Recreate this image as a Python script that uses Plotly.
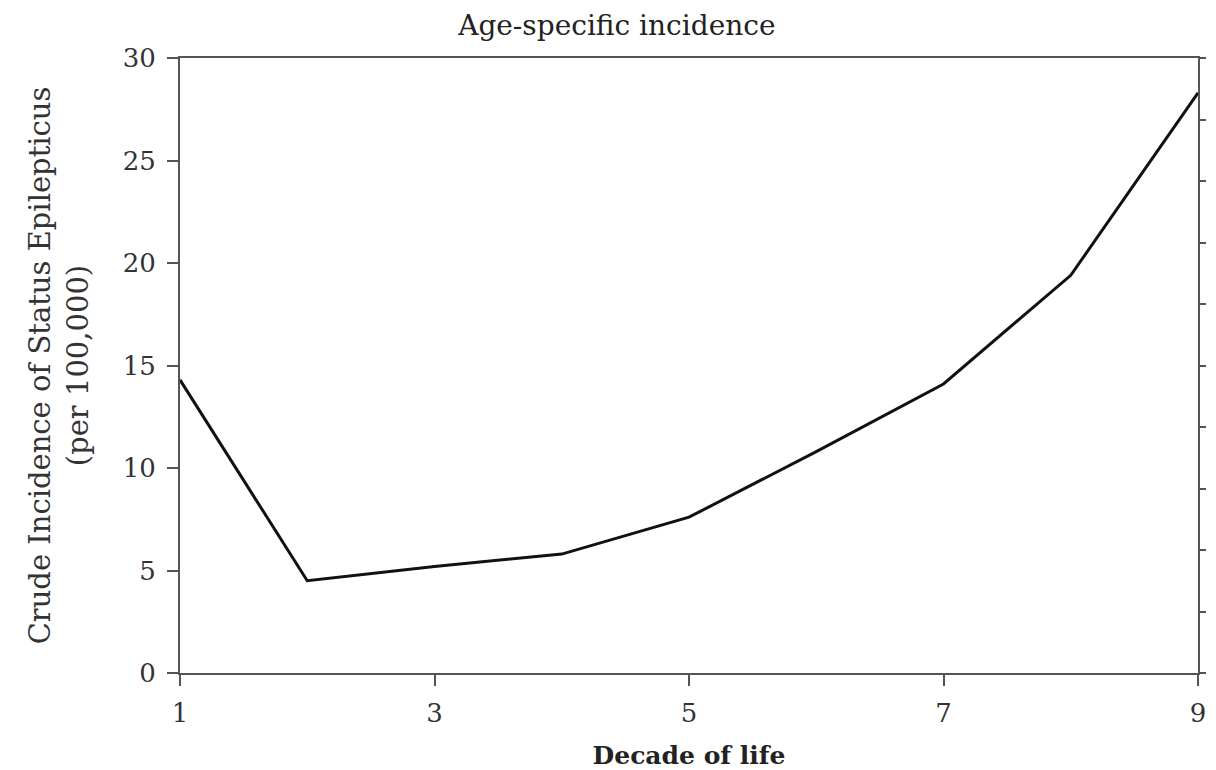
import plotly.graph_objects as go

decades = [1, 2, 3, 4, 5, 6, 7, 8, 9]
incidence = [14.3, 4.5, 5.2, 5.8, 7.6, 10.8, 14.1, 19.4, 28.3]
x_ticks = [1, 3, 5, 7, 9]
y_ticks = [0, 5, 10, 15, 20, 25, 30]

FONT = "DejaVu Serif"
AXIS_COLOR = "#555555"

fig = go.Figure()
fig.add_trace(go.Scatter(x=decades, y=incidence, mode="lines",
                         line=dict(color="#111111", width=3),
                         showlegend=False, hoverinfo="skip"))
fig.add_trace(go.Scatter(x=decades, y=incidence, mode="lines", yaxis="y2",
                         line=dict(color="rgba(0,0,0,0)", width=0),
                         showlegend=False, hoverinfo="skip"))

fig.update_layout(
    width=1208, height=762,
    margin=dict(l=172, r=18, t=50, b=97),
    paper_bgcolor="white", plot_bgcolor="white",
    title=dict(text="Age-specific incidence", x=0.504, xanchor="center",
               y=0.9777, yanchor="middle",
               font=dict(family=FONT, size=28, color="#222222")),
    xaxis=dict(range=[1, 9], tickvals=x_ticks, ticks="outside", ticklen=11,
               tickwidth=2, tickcolor=AXIS_COLOR, ticklabelstandoff=5,
               showline=True, linecolor=AXIS_COLOR, linewidth=2, mirror=True,
               showgrid=False, zeroline=False, automargin=False,
               tickfont=dict(family=FONT, size=26, color="#333333"),
               title=dict(text="<b>Decade of life</b>", standoff=26,
                          font=dict(family=FONT, size=25, color="#222222"))),
    yaxis=dict(range=[0, 30], tickvals=y_ticks, ticks="outside", ticklen=11,
               tickwidth=2, tickcolor=AXIS_COLOR, ticklabelstandoff=6,
               showline=True, linecolor=AXIS_COLOR, linewidth=2,
               showgrid=False, zeroline=False, automargin=False,
               tickfont=dict(family=FONT, size=26, color="#333333"),
               title=dict(text="Crude Incidence of Status Epilepticus<br>(per 100,000)",
                          standoff=26,
                          font=dict(family=FONT, size=29, color="#333333"))),
    yaxis2=dict(range=[0, 30], dtick=3, overlaying="y", side="right",
                ticks="outside", ticklen=6, tickwidth=2, tickcolor=AXIS_COLOR,
                showline=True, linecolor=AXIS_COLOR, linewidth=2,
                showticklabels=False, showgrid=False, zeroline=False,
                automargin=False),
)

fig.write_html("out.html")
